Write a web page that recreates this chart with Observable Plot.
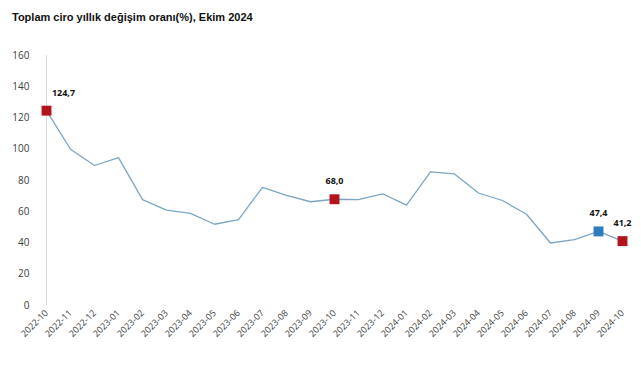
<!DOCTYPE html>
<html>
<head>
<meta charset="utf-8">
<script src="https://cdn.jsdelivr.net/npm/d3@7"></script>
<script src="https://cdn.jsdelivr.net/npm/@observablehq/plot@0.6"></script>
<style>
  html, body { margin: 0; padding: 0; background: #fff; }
  #title { font-family: "Liberation Sans", Arial, sans-serif; font-weight: bold; font-size: 11px; color: #111; padding: 11px 0 0 12px; height: 25px; box-sizing: border-box; }
</style>
</head>
<body>
<div id="title">Toplam ciro yıllık değişim oranı(%), Ekim 2024</div>
<div id="chart"></div>
<script>
// Monthly periods, October 2022 – October 2024
const months = [
  "2022-10","2022-11","2022-12","2023-01","2023-02","2023-03","2023-04","2023-05","2023-06",
  "2023-07","2023-08","2023-09","2023-10","2023-11","2023-12","2024-01","2024-02","2024-03",
  "2024-04","2024-05","2024-06","2024-07","2024-08","2024-09","2024-10"
];
// Annual change in total turnover (%)
const values = [
  124.7, 100.0, 89.6, 94.6, 67.8, 61.0, 59.0, 52.0, 55.0,
  75.6, 70.5, 66.4, 68.0, 67.8, 71.5, 64.2, 85.5, 84.2,
  72.0, 67.2, 58.4, 40.0, 42.2, 47.4, 41.2
];
// Highlighted months and their colours
const highlightMonths = ["2022-10", "2023-10", "2024-09", "2024-10"];
const highlightColors = ["#b3141c", "#b3141c", "#2f7bbf", "#b3141c"];
const yTicks = [0, 20, 40, 60, 80, 100, 120, 140, 160];

const data = months.map((m, i) => ({month: m, value: values[i]}));
const marks = highlightMonths.map((m, i) => ({
  month: m,
  value: values[months.indexOf(m)],
  color: highlightColors[i]
}));
const fmt = v => v.toFixed(1).replace(".", ",");
const labelStyle = {x: "month", y: "value", text: d => fmt(d.value), dy: -18, fontSize: 9, fontWeight: "bold", fill: "#111"};

const chart = Plot.plot({
  width: 641,
  height: 355,
  marginTop: 30,
  marginLeft: 39,
  marginRight: 13,
  marginBottom: 75,
  style: {fontFamily: "'Open Sans', sans-serif", background: "#fff"},
  x: {type: "point", domain: months, padding: 0, label: null},
  y: {domain: [0, 160], ticks: yTicks, label: null},
  marks: [
    Plot.ruleX([months[0]], {y1: 0, y2: 160, stroke: "#d9d9d9"}),
    Plot.ruleY([0], {stroke: "#e3e3e3", x1: months[0], x2: months[months.length - 1]}),
    Plot.axisY({ticks: yTicks, tickSize: 0, tickPadding: 10, fontSize: 10, fill: "#404040", color: "#404040"}),
    Plot.axisX({tickSize: 0, tickRotate: -45, tickPadding: 6, fontSize: 9, fill: "#404040", color: "#404040"}),
    Plot.line(data, {x: "month", y: "value", stroke: "#7aa6c4", strokeWidth: 1.3}),
    Plot.dot(marks, {x: "month", y: "value", symbol: "square", r: 5.6, fill: "color", stroke: "none"}),
    // first label sits to the right of its point so it stays clear of the axis
    Plot.text(marks.slice(0, 1), {...labelStyle, dx: 17}),
    Plot.text(marks.slice(1), labelStyle)
  ]
});
document.getElementById("chart").appendChild(chart);
</script>
</body>
</html>
